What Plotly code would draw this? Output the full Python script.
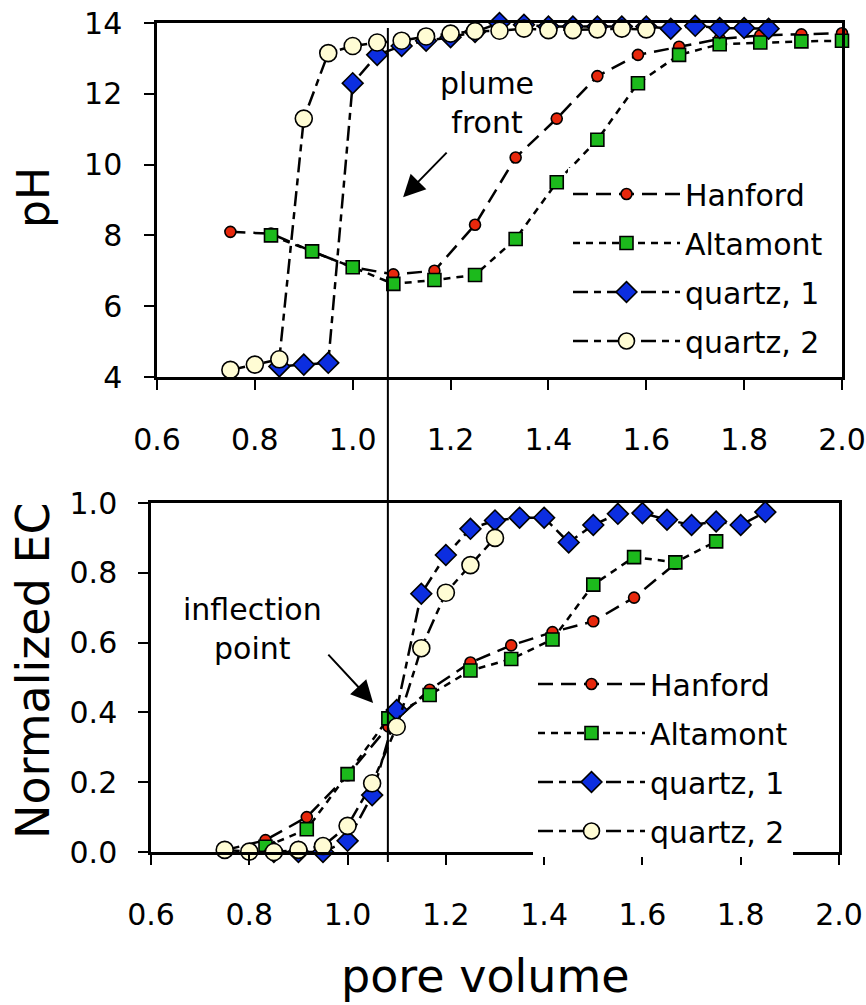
import plotly.graph_objects as go

# ---- pH versus pore volume ----
ph_hanford_x = [0.75, 0.833, 0.917, 1.0, 1.083, 1.167, 1.25, 1.333, 1.417, 1.5,
                1.583, 1.667, 1.75, 1.833, 1.917, 2.0]
ph_hanford_y = [8.1, 8.05, 7.55, 7.1, 6.9, 7.0, 8.3, 10.2, 11.3, 12.5,
                13.1, 13.33, 13.55, 13.65, 13.68, 13.71]

ph_altamont_x = [0.833, 0.917, 1.0, 1.083, 1.167, 1.25, 1.333, 1.417, 1.5,
                 1.583, 1.667, 1.75, 1.833, 1.917, 2.0]
ph_altamont_y = [8.0, 7.55, 7.1, 6.63, 6.74, 6.88, 7.9, 9.5, 10.7,
                 12.3, 13.1, 13.4, 13.45, 13.48, 13.5]

ph_q1_x = [0.85, 0.9, 0.95, 1.0, 1.05, 1.1, 1.15, 1.2, 1.25, 1.3, 1.35,
           1.4, 1.45, 1.5, 1.55, 1.6, 1.65, 1.7, 1.75, 1.8, 1.85]
ph_q1_y = [4.3, 4.35, 4.4, 12.3, 13.1, 13.35, 13.5, 13.6, 13.75, 14.0, 13.95,
           13.9, 13.9, 13.9, 13.9, 13.9, 13.84, 13.92, 13.86, 13.86, 13.84]

ph_q2_x = [0.75, 0.8, 0.85, 0.9, 0.95, 1.0, 1.05, 1.1, 1.15, 1.2, 1.25,
           1.3, 1.35, 1.4, 1.45, 1.5, 1.55, 1.6]
ph_q2_y = [4.2, 4.35, 4.5, 11.3, 13.15, 13.35, 13.45, 13.5, 13.62, 13.7, 13.77,
           13.78, 13.84, 13.8, 13.8, 13.82, 13.84, 13.82]

# ---- normalized EC versus pore volume ----
ec_hanford_x = [0.75, 0.833, 0.917, 1.0, 1.083, 1.167, 1.25, 1.333, 1.417,
                1.5, 1.583, 1.667]
ec_hanford_y = [0.005, 0.034, 0.10, 0.22, 0.36, 0.465, 0.543, 0.592, 0.63,
                0.661, 0.729, 0.826]

ec_altamont_x = [0.833, 0.917, 1.0, 1.083, 1.167, 1.25, 1.333, 1.417, 1.5,
                 1.583, 1.667, 1.75]
ec_altamont_y = [0.015, 0.065, 0.223, 0.383, 0.45, 0.52, 0.553, 0.609, 0.766,
                 0.845, 0.83, 0.89]

ec_q1_x = [0.85, 0.9, 0.95, 1.0, 1.05, 1.1, 1.15, 1.2, 1.25, 1.3, 1.35,
           1.4, 1.45, 1.5, 1.55, 1.6, 1.65, 1.7, 1.75, 1.8, 1.85]
ec_q1_y = [0.0, 0.0, 0.0, 0.032, 0.163, 0.407, 0.74, 0.851, 0.926, 0.95, 0.958,
           0.958, 0.887, 0.937, 0.969, 0.971, 0.952, 0.937, 0.947, 0.937, 0.974]

ec_q2_x = [0.75, 0.8, 0.85, 0.9, 0.95, 1.0, 1.05, 1.1, 1.15, 1.2, 1.25, 1.3]
ec_q2_y = [0.006, 0.001, 0.0, 0.006, 0.017, 0.075, 0.197, 0.359, 0.584,
           0.743, 0.822, 0.90]

series_names = ["Hanford", "Altamont", "quartz, 1", "quartz, 2"]
plume_front_pv = 1.082

FONT = "DejaVu Sans"
styles = {
    "Hanford": dict(dash="15px,8px", symbol="circle", size=11, color="#e8280c"),
    "Altamont": dict(dash="7px,6px", symbol="square", size=13, color="#1cba1c"),
    "quartz, 1": dict(dash="15px,6px,7px,6px", symbol="diamond", size=16, color="#0c2ee0"),
    "quartz, 2": dict(dash="15px,6px,7px,6px", symbol="circle", size=17, color="#fffcd4"),
}

fig = go.Figure()

panels = [
    ("x", "y", "legend", [(ph_hanford_x, ph_hanford_y), (ph_altamont_x, ph_altamont_y),
                          (ph_q1_x, ph_q1_y), (ph_q2_x, ph_q2_y)]),
    ("x2", "y2", "legend2", [(ec_hanford_x, ec_hanford_y), (ec_altamont_x, ec_altamont_y),
                             (ec_q1_x, ec_q1_y), (ec_q2_x, ec_q2_y)]),
]
for xa, ya, leg, data in panels:
    for name, (xs, ys) in zip(series_names, data):
        st = styles[name]
        fig.add_trace(go.Scatter(
            x=xs, y=ys, name=name, xaxis=xa, yaxis=ya, legend=leg,
            legendgroup=f"{leg}-{name}",
            mode="lines+markers", cliponaxis=False,
            line=dict(color="black", width=2.5, dash=st["dash"]),
            marker=dict(symbol=st["symbol"], size=st["size"], color=st["color"],
                        line=dict(color="black", width=1.6)),
        ))

axis_common = dict(
    showline=True, linecolor="black", linewidth=2.5, mirror=True,
    ticks="outside", ticklen=10, tickwidth=2, tickcolor="black",
    showgrid=False, zeroline=False, automargin=False,
    tickfont=dict(family=FONT, size=30, color="black"),
)

legend_common = dict(
    xanchor="left", yanchor="top", bgcolor="white", borderwidth=0,
    itemwidth=107, font=dict(family=FONT, size=30, color="black"),
    tracegroupgap=7, itemclick=False, itemdoubleclick=False,
)

fig.update_layout(
    width=866, height=1005,
    margin=dict(l=0, r=0, t=0, b=0, autoexpand=False),
    paper_bgcolor="white", plot_bgcolor="white",
    font=dict(family=FONT, color="black"),
    xaxis=dict(domain=[157 / 866, 842 / 866], range=[0.6, 2.0], dtick=0.2,
               tickformat=".1f", anchor="y", ticklabelstandoff=24, **axis_common),
    yaxis=dict(domain=[1 - 377 / 1005, 1 - 23 / 1005], range=[4, 14], dtick=2,
               anchor="x", ticklabelstandoff=16, **axis_common),
    xaxis2=dict(domain=[151 / 866, 839 / 866], range=[0.6, 2.0], dtick=0.2,
                tickformat=".1f", anchor="y2", ticklabelstandoff=24, **axis_common),
    yaxis2=dict(domain=[1 - 852 / 1005, 1 - 503 / 1005], range=[0, 1.0], dtick=0.2,
                tickformat=".1f", anchor="x2", ticklabelstandoff=15, **axis_common),
    legend=dict(x=568 / 866, y=1 - 168 / 1005, **legend_common),
    legend2=dict(x=533 / 866, y=1 - 658 / 1005, **legend_common),
    showlegend=True,
)

# plume front marker line running through both panels
fig.add_shape(type="line", xref="x2", yref="paper",
              x0=plume_front_pv, x1=plume_front_pv,
              y0=1 - 862 / 1005, y1=1 - 28 / 1005,
              line=dict(color="black", width=2))

ann_font = dict(family=FONT, size=30, color="black")
fig.add_annotation(text="plume<br>front", xref="x", yref="y", x=1.275, y=11.75,
                   showarrow=False, font=ann_font, align="center")
fig.add_annotation(text="", xref="x", yref="y", x=1.103, y=9.08,
                   axref="x", ayref="y", ax=1.195, ay=10.38,
                   showarrow=True, arrowhead=2, arrowsize=2.2, arrowwidth=2,
                   arrowcolor="black")
fig.add_annotation(text="inflection<br>point", xref="x2", yref="y2", x=0.806, y=0.64,
                   showarrow=False, font=ann_font, align="center")
fig.add_annotation(text="", xref="x2", yref="y2", x=1.052, y=0.427,
                   axref="x2", ayref="y2", ax=0.958, ay=0.570,
                   showarrow=True, arrowhead=2, arrowsize=2.2, arrowwidth=2,
                   arrowcolor="black")

# axis titles
fig.add_annotation(text="pH", xref="paper", yref="paper", x=33 / 866, y=1 - 198 / 1005,
                   textangle=-90, showarrow=False, xanchor="center", yanchor="middle",
                   font=dict(family=FONT, size=44, color="black"))
fig.add_annotation(text="Normalized EC", xref="paper", yref="paper", x=33 / 866,
                   y=1 - 671 / 1005, textangle=-90, showarrow=False,
                   xanchor="center", yanchor="middle",
                   font=dict(family=FONT, size=46, color="black"))
fig.add_annotation(text="pore volume", xref="paper", yref="paper", x=485 / 866,
                   y=1 - 976 / 1005, showarrow=False, xanchor="center", yanchor="middle",
                   font=dict(family=FONT, size=46, color="black"))

fig.write_html("out.html")
